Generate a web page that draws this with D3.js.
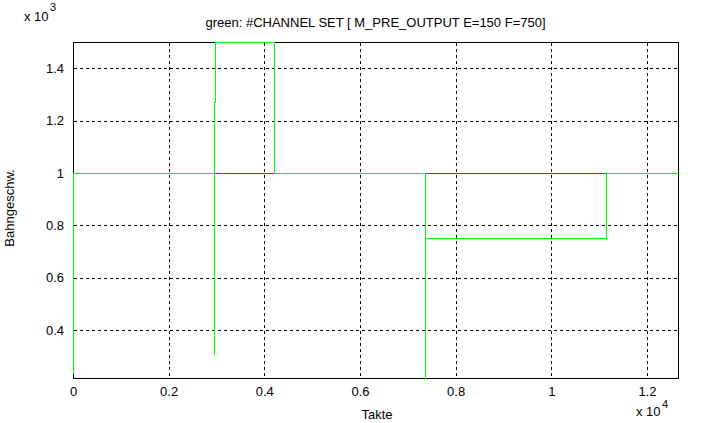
<!DOCTYPE html>
<html><head><meta charset="utf-8">
<script src="https://cdn.jsdelivr.net/npm/d3@7"></script>
<style>body{margin:0;background:#fff}svg{display:block}text{font-family:"Liberation Sans",Arial,sans-serif;fill:#000}</style>
</head><body><svg id="c" width="702" height="423"></svg>
<script>
const xTicks = [0, 2000, 4000, 6000, 8000, 10000, 12000];
const xTickLabels = ["0", "0.2", "0.4", "0.6", "0.8", "1", "1.2"];
const yTicks = [400, 600, 800, 1000, 1200, 1400];
const yTickLabels = ["0.4", "0.6", "0.8", "1", "1.2", "1.4"];
const greenX = [0, 0, 2956, 2956, 2956, 2977, 2977, 4210, 4210, 7367, 7367, 7367, 11151, 11151, 12650];
const greenY = [238, 1000, 1000, 310, 1269, 1269, 1500, 1500, 1000, 1000, 0, 750, 750, 1000, 1000];
const redX = [0, 12650];
const redY = [1000, 1000];
const xDomain = [0, 12650];
const yDomain = [217, 1500];

const svg = d3.select("#c");
const L = 73, R = 678, T = 42, B = 378;
const x = d3.scaleLinear().domain(xDomain).range([L, R]);
const y = d3.scaleLinear().domain(yDomain).range([B, T]);
const px = v => Math.round(v) + 0.5;

svg.append("defs").append("clipPath").attr("id","clip").append("rect")
  .attr("x", L - 1).attr("y", T - 1).attr("width", R - L + 2).attr("height", B - T + 2);

// box
svg.append("path").attr("d", `M${px(L)},${px(B)}H${px(R)}V${px(T)}H${px(L)}Z`)
  .attr("fill","none").attr("stroke","#000").attr("shape-rendering","crispEdges");

// grid
const g = svg.append("g").attr("shape-rendering","crispEdges");
g.selectAll(".gx").data(xTicks.filter(d => d > 0)).join("line")
  .attr("x1", d => px(x(d))).attr("x2", d => px(x(d)))
  .attr("y1", px(T)).attr("y2", px(B)).attr("stroke", "#000").attr("stroke-dasharray", "3,3");
g.selectAll(".gy").data(yTicks).join("line")
  .attr("y1", d => px(y(d))).attr("y2", d => px(y(d)))
  .attr("x1", px(L)).attr("x2", px(R)).attr("stroke", "#000").attr("stroke-dasharray", "3,3");

const line = d3.line().x(d => px(x(d[0]))).y(d => px(y(d[1])));
const plot = svg.append("g").attr("clip-path", "url(#clip)").attr("shape-rendering","crispEdges");
plot.append("path").datum(redX.map((v, i) => [v, redY[i]]))
  .attr("d", line).attr("fill", "none").attr("stroke", "#ff0000").attr("stroke-width", 1);
plot.append("path").datum(greenX.map((v, i) => [v, greenY[i]]))
  .attr("d", line).attr("fill", "none").attr("stroke", "#00ff00").attr("stroke-width", 1);

// axes
const xa = svg.append("g").attr("transform", `translate(0,${B})`)
  .call(d3.axisBottom(x).tickValues(xTicks).tickFormat((d, i) => xTickLabels[i]).tickSize(0).tickPadding(9));
xa.select(".domain").remove();
xa.selectAll("text").attr("font-size", 13).attr("font-family", "Liberation Sans, Arial, sans-serif");
const ya = svg.append("g").attr("transform", `translate(${L},0)`)
  .call(d3.axisLeft(y).tickValues(yTicks).tickFormat((d, i) => yTickLabels[i]).tickSize(0).tickPadding(9));
ya.select(".domain").remove();
ya.selectAll("text").attr("font-size", 13).attr("font-family", "Liberation Sans, Arial, sans-serif");

// labels
svg.append("text").attr("x", (L + R) / 2).attr("y", 27).attr("text-anchor", "middle").attr("font-size", 13)
  .text("green: #CHANNEL SET [ M_PRE_OUTPUT E=150 F=750]");
svg.append("text").attr("x", 377).attr("y", 419).attr("text-anchor", "middle").attr("font-size", 13).text("Takte");
svg.append("text").attr("transform", "translate(14,208) rotate(-90)").attr("text-anchor", "middle").attr("font-size", 13).text("Bahngeschw.");
svg.append("text").attr("x", 24).attr("y", 21).attr("font-size", 13).text("x 10");
svg.append("text").attr("x", 50).attr("y", 11).attr("font-size", 11).text("3");
svg.append("text").attr("x", 636).attr("y", 416).attr("font-size", 13).text("x 10");
svg.append("text").attr("x", 662).attr("y", 408).attr("font-size", 11).text("4");
</script></body></html>
